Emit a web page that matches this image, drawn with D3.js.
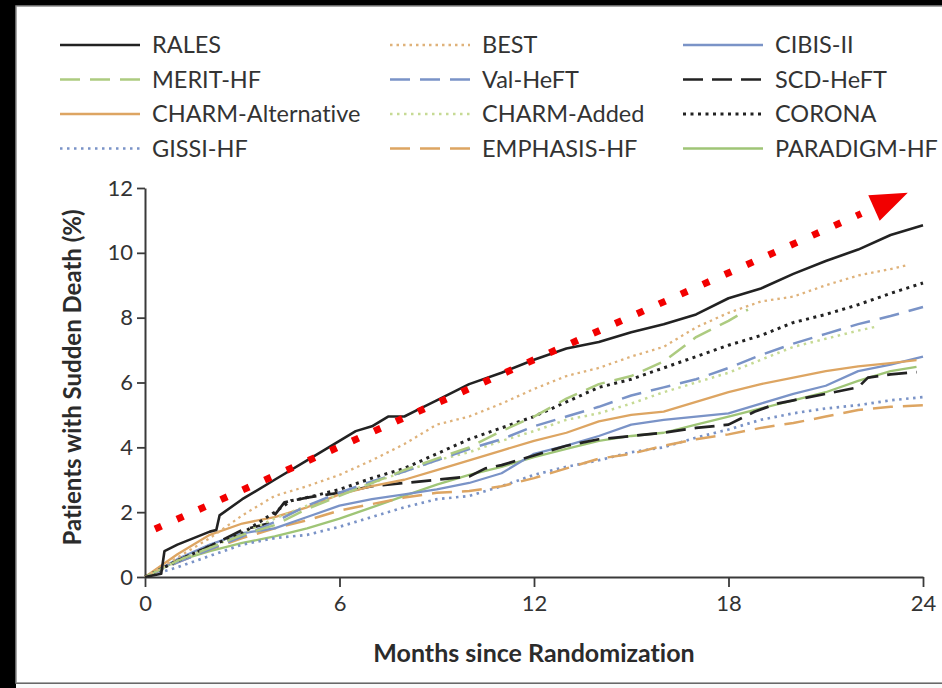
<!DOCTYPE html>
<html>
<head>
<meta charset="utf-8">
<script src="https://cdn.jsdelivr.net/npm/d3@7"></script>
<style>
  html, body { margin: 0; padding: 0; background: #000; }
  svg { display: block; }
  text { font-variant-ligatures: none; font-feature-settings: "liga" 0; }
</style>
</head>
<body>
<svg id="chart" width="942" height="688"></svg>
<script>
// series as [month, % with sudden death]
const rales = [[0,0],[0.5,0.1],[0.6,0.8],[1,1.0],[1.5,1.2],[2,1.4],[2.2,1.45],[2.3,1.9],[3,2.4],[4,3.0],[5,3.6],[6,4.2],[6.5,4.5],[7,4.65],[7.5,4.95],[8,4.95],[8.5,5.2],[9,5.45],[10,5.95],[11,6.3],[12,6.7],[13,7.05],[14,7.25],[15,7.55],[16,7.8],[17,8.1],[18,8.6],[19,8.9],[20,9.35],[21,9.75],[22,10.1],[23,10.55],[24,10.85]];
const best = [[0,0],[1,0.6],[2,1.2],[3,1.9],[4,2.5],[5,2.8],[6,3.15],[7,3.6],[8,4.1],[9,4.7],[10,4.95],[11,5.35],[12,5.8],[13,6.2],[14,6.45],[15,6.8],[16,7.1],[17,7.7],[18,8.15],[19,8.5],[20,8.65],[21,9.0],[22,9.3],[23,9.5],[23.5,9.62]];
const cibis = [[0,0],[1,0.55],[2,1.0],[3,1.35],[4,1.5],[5,1.85],[6,2.2],[7,2.4],[8,2.55],[9,2.7],[10,2.9],[11,3.2],[12,3.8],[13,4.05],[14,4.35],[15,4.7],[16,4.85],[17,4.95],[18,5.05],[19,5.35],[20,5.65],[21,5.9],[22,6.35],[23,6.55],[24,6.8]];
const merit = [[0,0],[1,0.5],[2,0.9],[3,1.3],[4,1.6],[5,2.1],[6,2.5],[7,2.9],[8,3.3],[9,3.65],[10,4.0],[11,4.5],[12,4.95],[13,5.5],[14,5.95],[15,6.2],[16,6.65],[17,7.4],[18,7.9],[18.6,8.25]];
const valheft = [[0,0],[1,0.45],[2,0.85],[3,1.25],[4,1.7],[5,2.2],[6,2.6],[7,2.95],[8,3.25],[9,3.6],[10,3.95],[11,4.25],[12,4.65],[13,4.95],[14,5.25],[15,5.6],[16,5.85],[17,6.1],[18,6.45],[19,6.85],[20,7.2],[21,7.5],[22,7.8],[23,8.05],[24,8.33]];
const scdheft = [[0,0],[1,0.5],[2,0.95],[3,1.45],[3.8,1.65],[4.3,2.3],[5,2.45],[6,2.6],[7,2.8],[8,2.9],[9,3.0],[10,3.1],[10.5,3.35],[11,3.45],[11.5,3.6],[12,3.75],[13,4.05],[14,4.25],[15,4.35],[16,4.45],[17,4.6],[18,4.7],[18.8,5.1],[19.5,5.35],[20,5.45],[21,5.65],[22,5.85],[22.3,6.15],[23,6.25],[23.8,6.32]];
const charmAlt = [[0,0],[1,0.7],[2,1.3],[3,1.65],[4,1.85],[5,2.15],[6,2.55],[7,2.8],[8,3.0],[9,3.3],[10,3.6],[11,3.9],[12,4.2],[13,4.45],[14,4.8],[15,5.0],[16,5.1],[17,5.4],[18,5.7],[19,5.95],[20,6.15],[21,6.35],[22,6.5],[23,6.6],[23.8,6.69]];
const charmAdded = [[0,0],[1,0.5],[2,0.9],[3,1.35],[4,1.8],[5,2.2],[6,2.55],[7,2.9],[8,3.25],[9,3.6],[10,3.85],[11,4.2],[12,4.5],[13,4.85],[14,5.05],[15,5.35],[16,5.7],[17,6.0],[18,6.3],[19,6.7],[20,7.1],[21,7.35],[22,7.6],[22.5,7.71]];
const corona = [[0,0],[1,0.5],[2,0.95],[3,1.35],[4,2.0],[4.5,2.35],[5,2.45],[6,2.7],[7,3.05],[8,3.35],[9,3.8],[10,4.25],[11,4.6],[12,4.95],[13,5.4],[14,5.85],[15,6.1],[16,6.45],[17,6.8],[18,7.15],[19,7.45],[20,7.85],[21,8.1],[22,8.4],[23,8.75],[24,9.07]];
const gissi = [[0,0],[1,0.3],[2,0.65],[3,1.0],[4,1.2],[5,1.3],[6,1.55],[7,1.85],[8,2.15],[9,2.4],[10,2.5],[11,2.8],[12,3.15],[13,3.4],[14,3.6],[15,3.85],[16,4.0],[17,4.3],[18,4.55],[19,4.85],[20,5.05],[21,5.2],[22,5.3],[23,5.45],[24,5.55]];
const emphasis = [[0,0],[1,0.45],[2,0.85],[3,1.2],[4,1.5],[5,1.75],[6,2.05],[7,2.25],[8,2.45],[9,2.6],[10,2.65],[11,2.8],[12,3.05],[13,3.35],[14,3.65],[15,3.8],[16,4.05],[17,4.25],[18,4.4],[19,4.6],[20,4.75],[21,4.95],[22,5.15],[23,5.25],[24,5.3]];
const paradigm = [[0,0],[1,0.5],[2,0.8],[3,1.05],[4,1.25],[5,1.5],[6,1.8],[7,2.15],[8,2.5],[9,2.85],[10,3.15],[11,3.4],[12,3.7],[13,3.95],[14,4.2],[15,4.35],[16,4.45],[17,4.7],[18,4.95],[19,5.2],[20,5.45],[21,5.7],[22,6.05],[23,6.35],[23.8,6.48]];

// legend order (row by row, 3 per row)
const trialNames = ["RALES", "BEST", "CIBIS-II", "MERIT-HF", "Val-HeFT", "SCD-HeFT",
  "CHARM-Alternative", "CHARM-Added", "CORONA", "GISSI-HF", "EMPHASIS-HF", "PARADIGM-HF"];
const trialData = [rales, best, cibis, merit, valheft, scdheft, charmAlt, charmAdded, corona, gissi, emphasis, paradigm];

const xTicks = [0, 6, 12, 18, 24];
const yTicks = [0, 2, 4, 6, 8, 10, 12];

// red trend arrow (annotation), [month, %]
const arrowTail = [0.31, 1.48];
const arrowTip = [23.53, 11.85];

// styles
const blue = "#7a93c7", tan = "#dda562", green = "#9fc576", ink = "#222";
const lineStyle = {
  "RALES":             { color: ink, width: 2.6, dash: null },
  "BEST":              { color: "#dfb27a", width: 2.3, dash: "2.5 4" },
  "CIBIS-II":          { color: blue, width: 2.3, dash: null },
  "MERIT-HF":          { color: "#adcb80", width: 2.5, dash: "20 10" },
  "Val-HeFT":          { color: blue, width: 2.5, dash: "20 10" },
  "SCD-HeFT":          { color: ink, width: 2.7, dash: "20 9" },
  "CHARM-Alternative": { color: tan, width: 2.3, dash: null },
  "CHARM-Added":       { color: "#c6da94", width: 2.5, dash: "2.5 4.5" },
  "CORONA":            { color: ink, width: 3, dash: "3 4.5" },
  "GISSI-HF":          { color: blue, width: 2.7, dash: "2.5 4.5" },
  "EMPHASIS-HF":       { color: tan, width: 2.5, dash: "20 10" },
  "PARADIGM-HF":       { color: green, width: 2.3, dash: null }
};
const font = "Lato, 'Open Sans', sans-serif";

const svg = d3.select("#chart");

// frame: black left/top edge, white panel
svg.append("rect").attr("x", 0).attr("y", 0).attr("width", 942).attr("height", 688).attr("fill", "#000");
svg.append("rect")
  .attr("x", 16).attr("y", 6).attr("width", 940).attr("height", 677)
  .attr("fill", "#fff").attr("stroke", "#8a8a8a").attr("stroke-width", 1.5);
svg.append("rect").attr("x", 16).attr("y", 684).attr("width", 930).attr("height", 6).attr("fill", "#fafafa");

const x = d3.scaleLinear().domain([0, 24]).range([145, 923]);
const y = d3.scaleLinear().domain([0, 12]).range([577, 188]);

// axes
const gx = svg.append("g")
  .attr("transform", `translate(0,${y(0)})`)
  .call(d3.axisBottom(x).tickValues(xTicks).tickSize(10).tickSizeOuter(0).tickPadding(8));
const gy = svg.append("g")
  .attr("transform", `translate(${x(0)},0)`)
  .call(d3.axisLeft(y).tickValues(yTicks).tickSize(8).tickSizeOuter(0).tickPadding(4));

[gx, gy].forEach(g => {
  g.select(".domain").attr("stroke", "#3a3a3a").attr("stroke-width", 2);
  g.selectAll(".tick line").attr("stroke", "#3a3a3a").attr("stroke-width", 1.8);
  g.selectAll(".tick text")
    .attr("fill", "#333")
    .attr("font-family", font)
    .attr("font-size", "22px");
});

// axis titles
svg.append("text")
  .attr("x", (x(0) + x(24)) / 2)
  .attr("y", 662)
  .attr("text-anchor", "middle")
  .attr("font-family", font)
  .attr("font-weight", 700)
  .attr("font-size", "25px")
  .attr("fill", "#2b2b2b")
  .text("Months since Randomization");

svg.append("text")
  .attr("transform", `translate(81,${(y(0) + y(12)) / 2 - 5}) rotate(-90)`)
  .attr("text-anchor", "middle")
  .attr("font-family", font)
  .attr("font-weight", 700)
  .attr("font-size", "24px")
  .attr("fill", "#2b2b2b")
  .text("Patients with Sudden Death (%)");

// curves
const line = d3.line()
  .x(d => x(d[0]))
  .y(d => y(d[1]))
  .curve(d3.curveLinear);

const drawOrder = [11, 9, 10, 2, 5, 6, 7, 4, 8, 3, 1, 0];
drawOrder.forEach(i => {
  const name = trialNames[i];
  const st = lineStyle[name];
  svg.append("path")
    .datum(trialData[i])
    .attr("fill", "none")
    .attr("stroke", st.color)
    .attr("stroke-width", st.width)
    .attr("stroke-linejoin", "round")
    .attr("stroke-dasharray", st.dash)
    .attr("d", line);
});

// legend
const legendCols = [60, 390, 683];
const legendRows = [45, 79.5, 114, 148.5];
const legend = svg.append("g");
trialNames.forEach((name, i) => {
  const cx = legendCols[i % 3];
  const cy = legendRows[Math.floor(i / 3)];
  const st = lineStyle[name];
  legend.append("line")
    .attr("x1", cx).attr("x2", cx + 80)
    .attr("y1", cy).attr("y2", cy)
    .attr("stroke", st.color)
    .attr("stroke-width", st.width)
    .attr("stroke-dasharray", st.dash);
  legend.append("text")
    .attr("x", cx + 92)
    .attr("y", cy)
    .attr("dy", "0.36em")
    .attr("font-family", font)
    .attr("font-size", "23.5px")
    .attr("fill", "#333")
    .text(name);
});

// red dotted trend arrow
const ax0 = x(arrowTail[0]), ay0 = y(arrowTail[1]);
const ax1 = x(arrowTip[0]), ay1 = y(arrowTip[1]);
const len = Math.hypot(ax1 - ax0, ay1 - ay0);
const ux = (ax1 - ax0) / len, uy = (ay1 - ay0) / len;
const headLen = 37, headHalf = 14;
const bx = ax1 - ux * headLen, by = ay1 - uy * headLen;

svg.append("line")
  .attr("x1", ax0).attr("y1", ay0)
  .attr("x2", bx - ux * 14).attr("y2", by - uy * 14)
  .attr("stroke", "#f20000")
  .attr("stroke-width", 7)
  .attr("stroke-dasharray", "7 17");

svg.append("path")
  .attr("d", `M${ax1},${ay1} L${bx - uy * headHalf},${by + ux * headHalf} L${bx + uy * headHalf},${by - ux * headHalf} Z`)
  .attr("fill", "#f20000");
</script>
</body>
</html>
